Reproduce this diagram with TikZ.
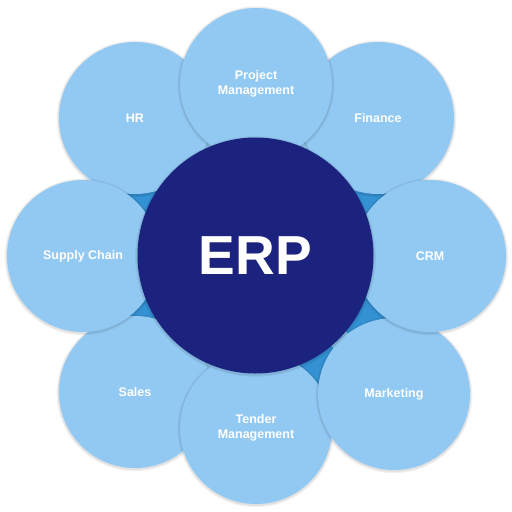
\documentclass[tikz,border=0pt]{standalone}
\usepackage{fontspec}
\setmainfont{Liberation Sans}
\definecolor{bubble}{RGB}{146,201,243}
\definecolor{core}{RGB}{27,35,126}
\definecolor{gapblue}{RGB}{52,146,212}
\tikzset{
  bubblenode/.style={circle, fill=bubble, minimum size=152pt, inner sep=0pt,
    text=white, font=\bfseries\fontsize{12.5}{14.5}\selectfont, align=center},
  corenode/.style={circle, fill=core, minimum size=236pt, inner sep=0pt,
    text=white, font=\bfseries\fontsize{55}{60}\selectfont},
  glow/.style={fill=black, opacity=0.06}
}
\newcommand\bubbleat[4]{%
  \fill[glow] (#2,#3+0.8) circle[radius=78.3pt];
  \fill[glow] (#2,#3+0.8) circle[radius=77.1pt];
  \node[bubblenode] (#1) at (#2,#3) {#4};
}
\newcommand\gapwedge[2]{%
  \fill[gapblue] (256,256) -- ++(#1:150pt) arc[start angle=#1, end angle=#2, radius=150pt] -- cycle;
}
\begin{document}
\begin{tikzpicture}[x=1pt,y=-1pt]
  \fill[white] (0,0) rectangle (512,512);
  \useasboundingbox (0,0) rectangle (512,512);
  \fill[bubble] (256,256) circle[radius=150pt];
  \gapwedge{140}{168}
  \gapwedge{192}{220}
  \gapwedge{12}{40}
  \gapwedge{320}{348}
  \gapwedge{286}{310}
  \bubbleat{hr}{135}{118}{HR}
  \bubbleat{fin}{378}{118}{Finance}
  \bubbleat{sales}{135}{392}{Sales}
  \bubbleat{tender}{256}{428}{Tender\\Management}
  \bubbleat{mkt}{394}{394}{Marketing}
  \bubbleat{crm}{430}{256}{CRM}
  \bubbleat{pm}{256}{84}{Project\\Management}
  \bubbleat{sc}{83}{256}{Supply Chain}
  \fill[glow] (255.5,256.5) circle[radius=120.3pt];
  \fill[glow] (255.5,256.5) circle[radius=119.1pt];
  \node[corenode] (erp) at (255.5,255.5) {ERP};
\end{tikzpicture}
\end{document}
